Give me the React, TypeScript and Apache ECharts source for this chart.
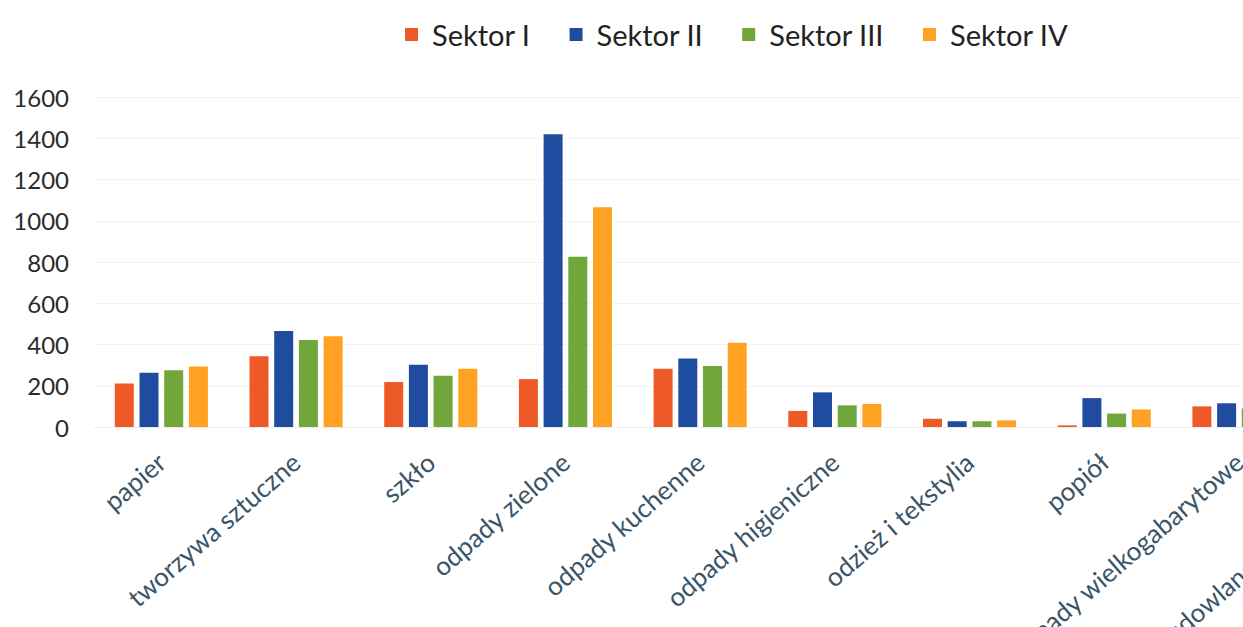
import React, { useEffect, useRef } from "react";
import * as echarts from "echarts";

const categories = [
  "papier",
  "tworzywa sztuczne",
  "szkło",
  "odpady zielone",
  "odpady kuchenne",
  "odpady higieniczne",
  "odzież i tekstylia",
  "popiół",
  "odpady wielkogabarytowe",
  "odpady budowlane i rozbiórkowe",
];

const seriesNames = ["Sektor I", "Sektor II", "Sektor III", "Sektor IV"];

const sektor1 = [211, 343, 218, 232, 282, 78, 40, 8, 100, 60];
const sektor2 = [263, 466, 302, 1420, 332, 168, 28, 140, 115, 80];
const sektor3 = [275, 422, 248, 825, 296, 105, 28, 65, 90, 70];
const sektor4 = [293, 440, 282, 1065, 408, 112, 32, 85, 95, 75];

const yTicks = [0, 200, 400, 600, 800, 1000, 1200, 1400, 1600];

const colors = ["#EE5A27", "#1F4C9E", "#71A73A", "#FFA224"];

const CHART_W = 1441;
const CHART_H = 800;

export default function App() {
  const ref = useRef<HTMLDivElement>(null);

  useEffect(() => {
    if (!ref.current) return;
    const chart = echarts.init(ref.current, null, { renderer: "svg" });
    const values = [sektor1, sektor2, sektor3, sektor4];
    chart.setOption({
      animation: false,
      backgroundColor: "#ffffff",
      textStyle: { fontFamily: "Lato" },
      legend: {
        left: 400,
        top: 15,
        itemWidth: 13,
        itemHeight: 13,
        itemGap: 39,
        icon: "rect",
        data: seriesNames,
        textStyle: {
          fontFamily: "Lato",
          fontSize: 29,
          color: "#222222",
          padding: [0, 0, 0, 9],
        },
      },
      grid: {
        left: 94,
        right: 0,
        top: 97,
        bottom: CHART_H - 427,
        containLabel: false,
        outerBoundsMode: "none",
      },
      xAxis: {
        type: "category",
        data: categories,
        axisLine: { show: true, lineStyle: { color: "#ececec", width: 1 } },
        axisTick: { show: false },
        axisLabel: {
          interval: 0,
          rotate: 41,
          margin: 31,
          fontFamily: "Lato",
          fontSize: 26,
          color: "#3A5468",
        },
      },
      yAxis: {
        type: "value",
        min: yTicks[0],
        max: yTicks[yTicks.length - 1],
        interval: 200,
        axisLine: { show: false },
        axisTick: { show: false },
        splitLine: { show: true, lineStyle: { color: "#f3f3f3", width: 1 } },
        axisLabel: {
          margin: 25,
          fontFamily: "Lato",
          fontSize: 24,
          color: "#2b2b2b",
          formatter: (v: number) => String(v),
        },
      },
      series: seriesNames.map((name, i) => ({
        name,
        type: "bar",
        data: values[i],
        barWidth: 19,
        barGap: "30%",
        itemStyle: { color: colors[i] },
      })),
    });
    return () => chart.dispose();
  }, []);

  return (
    <div
      style={{
        position: "fixed",
        left: 0,
        top: 0,
        width: 1243,
        height: 627,
        overflow: "hidden",
        background: "#fff",
      }}
    >
      <div ref={ref} style={{ width: CHART_W, height: CHART_H }} />
    </div>
  );
}
